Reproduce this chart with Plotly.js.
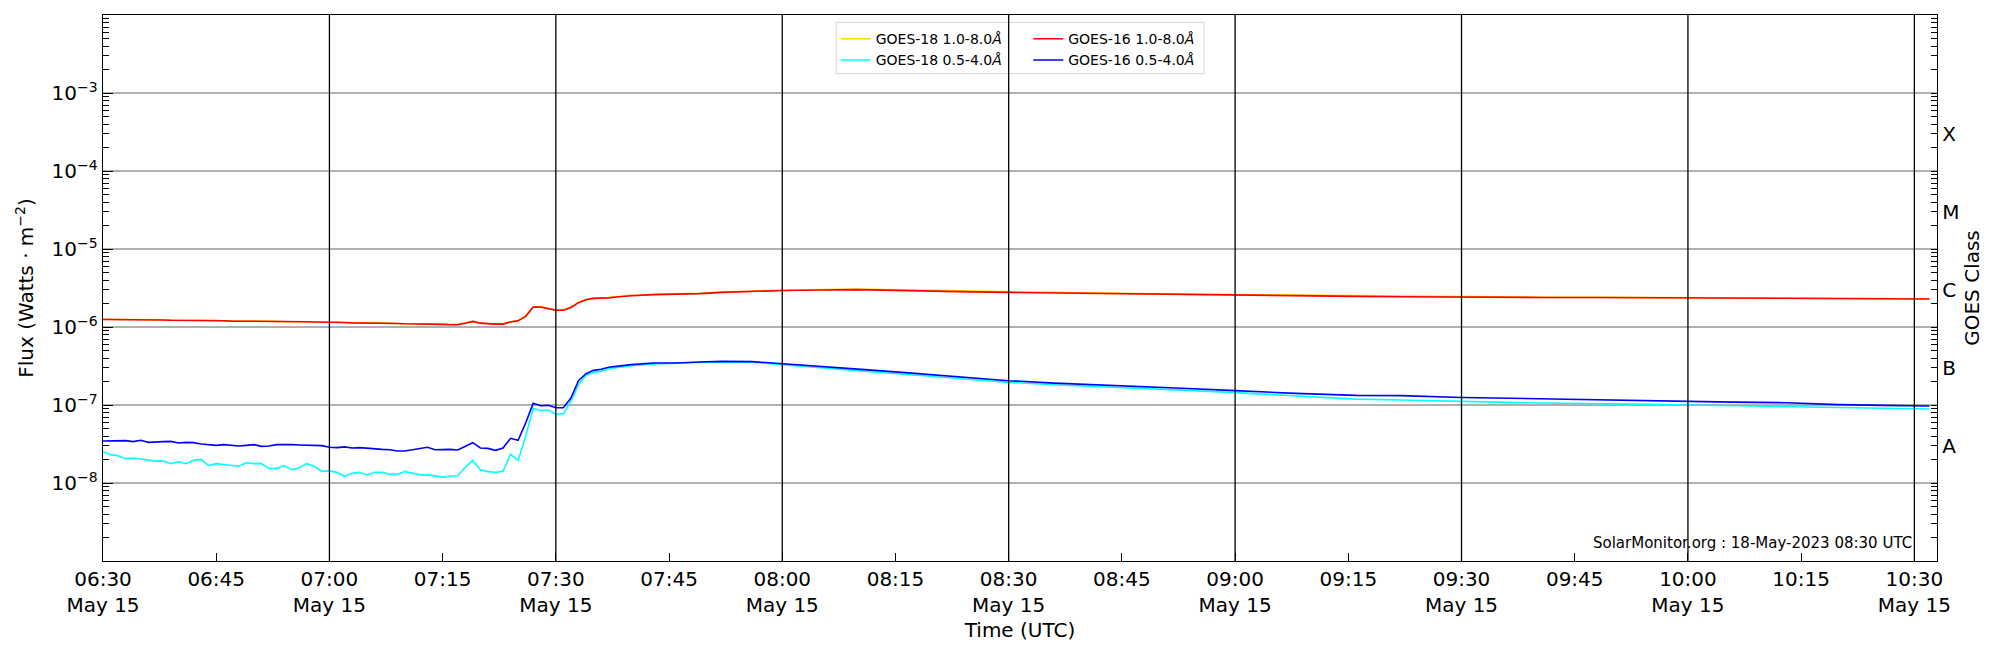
<!DOCTYPE html>
<html>
<head>
<meta charset="utf-8">
<script src="https://cdn.plot.ly/plotly-3.0.1.min.js"></script>
<style>
  html, body { margin: 0; padding: 0; background: #fff; }
  #chart { width: 2000px; height: 650px; }
</style>
</head>
<body>
<div id="chart"></div>
<script>
// minutes after 2023-05-15 06:30 UTC
const minutes = [
  0, 1, 2, 3, 4, 5, 6, 7, 8, 9,
  10, 11, 12, 13, 14, 15, 16, 17, 18, 19,
  20, 21, 22, 23, 24, 25, 26, 27, 28, 29,
  30, 31, 32, 33, 34, 35, 36, 37, 38, 39,
  40, 41, 42, 43, 44, 45, 46, 47, 48, 49,
  50, 51, 52, 53, 54, 55, 56, 57, 58, 59,
  60, 61, 62, 63,
  64, 65, 66, 67, 68, 70, 73, 76, 79, 82, 86,
  90, 95, 100, 105, 110, 115, 120, 126, 134, 143, 150, 158, 166,
  172, 180, 186, 191, 198, 205, 210, 216, 223, 230, 236, 242
];

// GOES-18 1.0-8.0 A
const g18Long = [
  1.26e-6, 1.26e-6, 1.25e-6, 1.25e-6, 1.24e-6, 1.24e-6, 1.24e-6, 1.23e-6, 1.23e-6, 1.23e-6,
  1.22e-6, 1.22e-6, 1.22e-6, 1.22e-6, 1.21e-6, 1.21e-6, 1.20e-6, 1.20e-6, 1.19e-6, 1.19e-6,
  1.19e-6, 1.18e-6, 1.18e-6, 1.18e-6, 1.17e-6, 1.17e-6, 1.17e-6, 1.17e-6, 1.17e-6, 1.16e-6,
  1.16e-6, 1.15e-6, 1.14e-6, 1.14e-6, 1.13e-6, 1.13e-6, 1.12e-6, 1.12e-6, 1.12e-6, 1.11e-6,
  1.11e-6, 1.10e-6, 1.10e-6, 1.09e-6, 1.09e-6, 1.08e-6, 1.08e-6, 1.08e-6, 1.13e-6, 1.18e-6,
  1.13e-6, 1.10e-6, 1.10e-6, 1.10e-6, 1.17e-6, 1.21e-6, 1.38e-6, 1.80e-6, 1.81e-6, 1.73e-6,
  1.65e-6, 1.65e-6, 1.79e-6, 2.06e-6,
  2.25e-6, 2.34e-6, 2.35e-6, 2.38e-6, 2.44e-6, 2.54e-6, 2.62e-6, 2.65e-6, 2.71e-6, 2.81e-6, 2.89e-6,
  2.98e-6, 3.03e-6, 3.06e-6, 3.00e-6, 2.92e-6, 2.87e-6, 2.82e-6, 2.77e-6, 2.70e-6, 2.64e-6, 2.60e-6, 2.54e-6, 2.49e-6,
  2.46e-6, 2.42e-6, 2.41e-6, 2.40e-6, 2.40e-6, 2.39e-6, 2.39e-6, 2.36e-6, 2.34e-6, 2.32e-6, 2.31e-6, 2.30e-6
];

// GOES-18 0.5-4.0 A
const g18Short = [
  2.52e-8, 2.31e-8, 2.24e-8, 2.05e-8, 2.09e-8, 2.03e-8, 1.93e-8, 1.91e-8, 1.91e-8, 1.77e-8,
  1.88e-8, 1.77e-8, 1.95e-8, 2.01e-8, 1.67e-8, 1.77e-8, 1.73e-8, 1.70e-8, 1.64e-8, 1.82e-8,
  1.77e-8, 1.77e-8, 1.54e-8, 1.53e-8, 1.67e-8, 1.48e-8, 1.57e-8, 1.77e-8, 1.64e-8, 1.41e-8,
  1.43e-8, 1.37e-8, 1.22e-8, 1.33e-8, 1.37e-8, 1.27e-8, 1.37e-8, 1.37e-8, 1.29e-8, 1.29e-8,
  1.40e-8, 1.34e-8, 1.27e-8, 1.27e-8, 1.23e-8, 1.19e-8, 1.22e-8, 1.24e-8, 1.59e-8, 1.95e-8,
  1.48e-8, 1.40e-8, 1.37e-8, 1.41e-8, 2.33e-8, 1.95e-8, 3.96e-8, 9.06e-8, 8.45e-8, 8.63e-8,
  7.60e-8, 7.75e-8, 1.11e-7, 1.82e-7,
  2.40e-7, 2.60e-7, 2.72e-7, 2.90e-7, 3.00e-7, 3.19e-7, 3.35e-7, 3.40e-7, 3.50e-7, 3.58e-7, 3.55e-7,
  3.28e-7, 3.00e-7, 2.76e-7, 2.55e-7, 2.32e-7, 2.12e-7, 1.95e-7, 1.82e-7, 1.70e-7, 1.55e-7, 1.44e-7, 1.31e-7, 1.19e-7,
  1.16e-7, 1.10e-7, 1.08e-7, 1.06e-7, 1.05e-7, 1.02e-7, 1.00e-7, 9.8e-8, 9.5e-8, 9.2e-8, 9.0e-8, 8.9e-8
];

// GOES-16 1.0-8.0 A
const g16Long = [
  1.25e-6, 1.25e-6, 1.25e-6, 1.24e-6, 1.24e-6, 1.24e-6, 1.23e-6, 1.23e-6, 1.23e-6, 1.22e-6,
  1.22e-6, 1.22e-6, 1.22e-6, 1.22e-6, 1.21e-6, 1.20e-6, 1.20e-6, 1.19e-6, 1.19e-6, 1.18e-6,
  1.18e-6, 1.18e-6, 1.17e-6, 1.17e-6, 1.17e-6, 1.17e-6, 1.17e-6, 1.17e-6, 1.16e-6, 1.16e-6,
  1.15e-6, 1.14e-6, 1.14e-6, 1.13e-6, 1.13e-6, 1.12e-6, 1.12e-6, 1.12e-6, 1.11e-6, 1.11e-6,
  1.10e-6, 1.10e-6, 1.09e-6, 1.09e-6, 1.08e-6, 1.08e-6, 1.07e-6, 1.07e-6, 1.12e-6, 1.18e-6,
  1.12e-6, 1.10e-6, 1.09e-6, 1.09e-6, 1.16e-6, 1.20e-6, 1.37e-6, 1.80e-6, 1.80e-6, 1.72e-6,
  1.64e-6, 1.64e-6, 1.78e-6, 2.05e-6,
  2.24e-6, 2.33e-6, 2.33e-6, 2.36e-6, 2.42e-6, 2.52e-6, 2.60e-6, 2.62e-6, 2.68e-6, 2.78e-6, 2.86e-6,
  2.94e-6, 2.98e-6, 3.01e-6, 2.95e-6, 2.87e-6, 2.82e-6, 2.78e-6, 2.73e-6, 2.67e-6, 2.61e-6, 2.57e-6, 2.52e-6, 2.47e-6,
  2.44e-6, 2.40e-6, 2.40e-6, 2.39e-6, 2.39e-6, 2.38e-6, 2.38e-6, 2.35e-6, 2.33e-6, 2.31e-6, 2.30e-6, 2.29e-6
];

// GOES-16 0.5-4.0 A
const g16Short = [
  3.46e-8, 3.46e-8, 3.49e-8, 3.49e-8, 3.39e-8, 3.53e-8, 3.32e-8, 3.32e-8, 3.39e-8, 3.42e-8,
  3.26e-8, 3.32e-8, 3.29e-8, 3.16e-8, 3.13e-8, 3.04e-8, 3.10e-8, 3.07e-8, 2.98e-8, 3.04e-8,
  3.10e-8, 2.95e-8, 2.98e-8, 3.10e-8, 3.13e-8, 3.10e-8, 3.07e-8, 3.07e-8, 3.07e-8, 3.01e-8,
  2.87e-8, 2.84e-8, 2.90e-8, 2.81e-8, 2.84e-8, 2.78e-8, 2.70e-8, 2.70e-8, 2.67e-8, 2.57e-8,
  2.57e-8, 2.67e-8, 2.75e-8, 2.87e-8, 2.67e-8, 2.70e-8, 2.70e-8, 2.65e-8, 2.95e-8, 3.29e-8,
  2.81e-8, 2.78e-8, 2.62e-8, 2.81e-8, 3.74e-8, 3.53e-8, 5.88e-8, 1.05e-7, 9.8e-8, 9.9e-8,
  9.2e-8, 9.2e-8, 1.23e-7, 2.05e-7,
  2.52e-7, 2.78e-7, 2.87e-7, 3.05e-7, 3.13e-7, 3.29e-7, 3.45e-7, 3.45e-7, 3.56e-7, 3.63e-7, 3.60e-7,
  3.36e-7, 3.13e-7, 2.88e-7, 2.66e-7, 2.45e-7, 2.22e-7, 2.05e-7, 1.91e-7, 1.79e-7, 1.64e-7, 1.53e-7, 1.41e-7, 1.33e-7,
  1.32e-7, 1.25e-7, 1.22e-7, 1.18e-7, 1.17e-7, 1.12e-7, 1.10e-7, 1.09e-7, 1.07e-7, 1.01e-7, 9.9e-8, 9.7e-8
];

const fluxTicks = [1e-8, 1e-7, 1e-6, 1e-5, 1e-4, 1e-3];
const fluxLabels = ['10<sup>−8</sup>', '10<sup>−7</sup>', '10<sup>−6</sup>', '10<sup>−5</sup>', '10<sup>−4</sup>', '10<sup>−3</sup>'];
const classTicks = [3e-8, 3e-7, 3e-6, 3e-5, 3e-4];
const classLabels = ['A', 'B', 'C', 'M', 'X'];
const timeTicks = [
  '06:30', '06:45', '07:00', '07:15', '07:30', '07:45', '08:00', '08:15', '08:30',
  '08:45', '09:00', '09:15', '09:30', '09:45', '10:00', '10:15', '10:30'
];
const timeLabels = [
  '06:30<br>May 15', '06:45', '07:00<br>May 15', '07:15', '07:30<br>May 15', '07:45',
  '08:00<br>May 15', '08:15', '08:30<br>May 15', '08:45', '09:00<br>May 15', '09:15',
  '09:30<br>May 15', '09:45', '10:00<br>May 15', '10:15', '10:30<br>May 15'
];
const halfHours = ['07:00', '07:30', '08:00', '08:30', '09:00', '09:30', '10:00', '10:30'];

const DAY = '2023-05-15';
const pad = (n) => (n < 10 ? '0' : '') + n;
const stamp = (m) => {
  const tot = 6 * 60 + 30 + m;
  return DAY + ' ' + pad(Math.floor(tot / 60)) + ':' + pad(tot % 60);
};
const times = minutes.map(stamp);

const FONT = 'DejaVu Sans, Verdana, sans-serif';

const series = [
  { name: 'GOES-18 1.0-8.0<i>Å</i>', y: g18Long, color: '#ffd700', yaxis: 'y', legend: 'legend' },
  { name: 'GOES-18 0.5-4.0<i>Å</i>', y: g18Short, color: '#00ffff', yaxis: 'y', legend: 'legend' },
  { name: 'GOES-16 1.0-8.0<i>Å</i>', y: g16Long, color: '#ff0000', yaxis: 'y2', legend: 'legend2' },
  { name: 'GOES-16 0.5-4.0<i>Å</i>', y: g16Short, color: '#0000ff', yaxis: 'y2', legend: 'legend2' },
];

const traces = series.map((s) => ({
  type: 'scatter',
  mode: 'lines',
  name: s.name,
  x: times,
  y: s.y,
  yaxis: s.yaxis,
  legend: s.legend,
  line: { color: s.color, width: 1.6 },
  hoverinfo: 'skip',
}));

const shapes = [
  // legend frame
  {
    type: 'rect', xref: 'paper', yref: 'paper',
    x0: 0.3998, x1: 0.6003, y0: 0.8925, y1: 0.9864,
    line: { color: '#d6d6d6', width: 1 },
    fillcolor: 'rgba(255,255,255,0.8)',
    layer: 'above',
  },
];
halfHours.forEach((h) => {
  shapes.push({
    type: 'line', xref: 'x', yref: 'paper',
    x0: DAY + ' ' + h, x1: DAY + ' ' + h, y0: 0, y1: 1,
    line: { color: '#000', width: 1.3 },
    layer: 'above',
  });
});

const legendCommon = {
  bgcolor: 'rgba(0,0,0,0)',
  borderwidth: 0,
  font: { family: FONT, size: 14, color: '#000' },
  yanchor: 'top',
  xanchor: 'left',
  y: 0.985,
  tracegroupgap: 0,
};

const layout = {
  width: 2000,
  height: 650,
  margin: { l: 103, r: 63, t: 15, b: 89 },
  paper_bgcolor: '#fff',
  plot_bgcolor: '#fff',
  font: { family: FONT, size: 20, color: '#000' },
  showlegend: true,
  legend: Object.assign({}, legendCommon, { x: 0.3995 }),
  legend2: Object.assign({}, legendCommon, { x: 0.5045 }),
  xaxis: {
    type: 'date',
    range: [DAY + ' 06:30', DAY + ' 10:33'],
    tickmode: 'array',
    tickvals: timeTicks.map((t) => DAY + ' ' + t),
    ticktext: timeLabels,
    ticks: 'inside',
    ticklen: 8,
    tickwidth: 1,
    tickcolor: '#000',
    showgrid: false,
    zeroline: false,
    showline: true,
    linecolor: '#000',
    linewidth: 1.3,
    mirror: true,
    tickfont: { size: 20 },
    title: { text: 'Time (UTC)', font: { size: 20 }, standoff: 6 },
  },
  yaxis: {
    type: 'log',
    range: [-9, -2],
    tickmode: 'array',
    tickvals: fluxTicks,
    ticktext: fluxLabels,
    ticks: 'inside',
    ticklen: 10,
    tickcolor: '#000',
    showgrid: true,
    gridcolor: '#b0b0b0',
    gridwidth: 1.3,
    zeroline: false,
    showline: true,
    linecolor: '#000',
    linewidth: 1.3,
    minor: { ticks: 'inside', ticklen: 6, dtick: 'D1', tickcolor: '#000', showgrid: false },
    tickfont: { size: 20 },
    title: { text: 'Flux (Watts · m<sup>−2</sup>)', font: { size: 20 }, standoff: 12 },
  },
  yaxis2: {
    type: 'log',
    range: [-9, -2],
    overlaying: 'y',
    side: 'right',
    tickmode: 'array',
    tickvals: classTicks,
    ticktext: classLabels,
    ticks: 'inside',
    ticklen: 6,
    tickcolor: '#000',
    showgrid: false,
    zeroline: false,
    showline: true,
    linecolor: '#000',
    linewidth: 1.3,
    minor: { ticks: 'inside', ticklen: 6, dtick: 'D1', tickcolor: '#000', showgrid: false },
    tickfont: { size: 20 },
    title: { text: 'GOES Class', font: { size: 20 }, standoff: 6 },
  },
  shapes: shapes,
  annotations: [
    {
      xref: 'paper', yref: 'paper',
      x: 0.9877, y: 0.0328,
      xanchor: 'right', yanchor: 'middle',
      text: 'SolarMonitor.org : 18-May-2023 08:30 UTC',
      showarrow: false,
      font: { family: FONT, size: 15, color: '#000' },
    },
  ],
};

Plotly.newPlot('chart', traces, layout, { staticPlot: true, displayModeBar: false });
</script>
</body>
</html>
